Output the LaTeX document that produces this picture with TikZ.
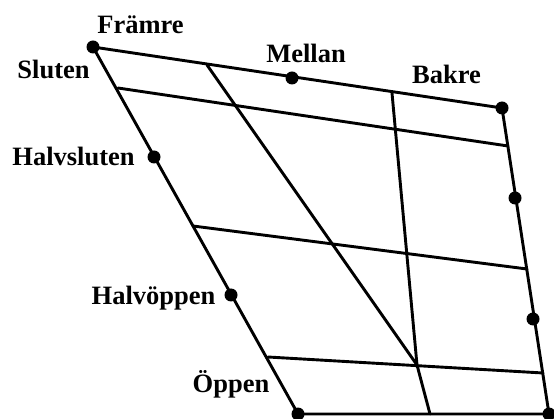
\documentclass[tikz,border=0pt]{standalone}
\usepackage{fontspec}
\setmainfont{Liberation Serif}
\begin{document}
\begin{tikzpicture}[x=1pt,y=-1pt,
  edge/.style={line width=2.9pt,line cap=round,line join=round},
  dot/.style={circle,fill=black,inner sep=0pt,minimum size=13pt},
  lbl/.style={font=\fontsize{26.5}{29}\selectfont\bfseries,anchor=base,inner sep=0pt}]
\useasboundingbox (0,0) rectangle (554,419);
% corners and points
\coordinate (tl) at (93,47);
\coordinate (tr) at (502,108);
\coordinate (br) at (549,414);
\coordinate (bl) at (298,414);
\coordinate (h1l) at (118,88);
\coordinate (h1r) at (508,146);
\coordinate (h2l) at (193,226);
\coordinate (h2r) at (527,269);
\coordinate (h3l) at (268,357);
\coordinate (h3r) at (543,373);
\coordinate (dtop) at (207,65);
\coordinate (vtop) at (392,93);
\coordinate (vmid) at (417,365);
\coordinate (vbot) at (430,414);
% frame and grid
\draw[edge] (tl) -- (tr) -- (br) -- (bl) -- cycle;
\draw[edge] (h1l) -- (h1r);
\draw[edge] (h2l) -- (h2r);
\draw[edge] (h3l) -- (h3r);
\draw[edge] (dtop) -- (vmid);
\draw[edge] (vtop) -- (vmid) -- (vbot);
% dots
\node[dot] (d1) at (tl) {};
\node[dot] (d2) at (292,78) {};
\node[dot] (d3) at (tr) {};
\node[dot] (d4) at (154,157) {};
\node[dot] (d5) at (515,198) {};
\node[dot] (d6) at (231,295) {};
\node[dot] (d7) at (533,319) {};
\node[dot] (d8) at (bl) {};
\node[dot] (d9) at (br) {};
% labels
\node[lbl] (fr) at (140.5,34) {Främre};
\node[lbl] (me) at (306,63) {Mellan};
\node[lbl] (ba) at (446.5,84) {Bakre};
\node[lbl] (sl) at (53.5,79) {Sluten};
\node[lbl] (hs) at (73.5,166) {Halvsluten};
\node[lbl] (ho) at (153.5,305) {Halvöppen};
\node[lbl] (op) at (231,392) {Öppen};
\end{tikzpicture}
\end{document}
